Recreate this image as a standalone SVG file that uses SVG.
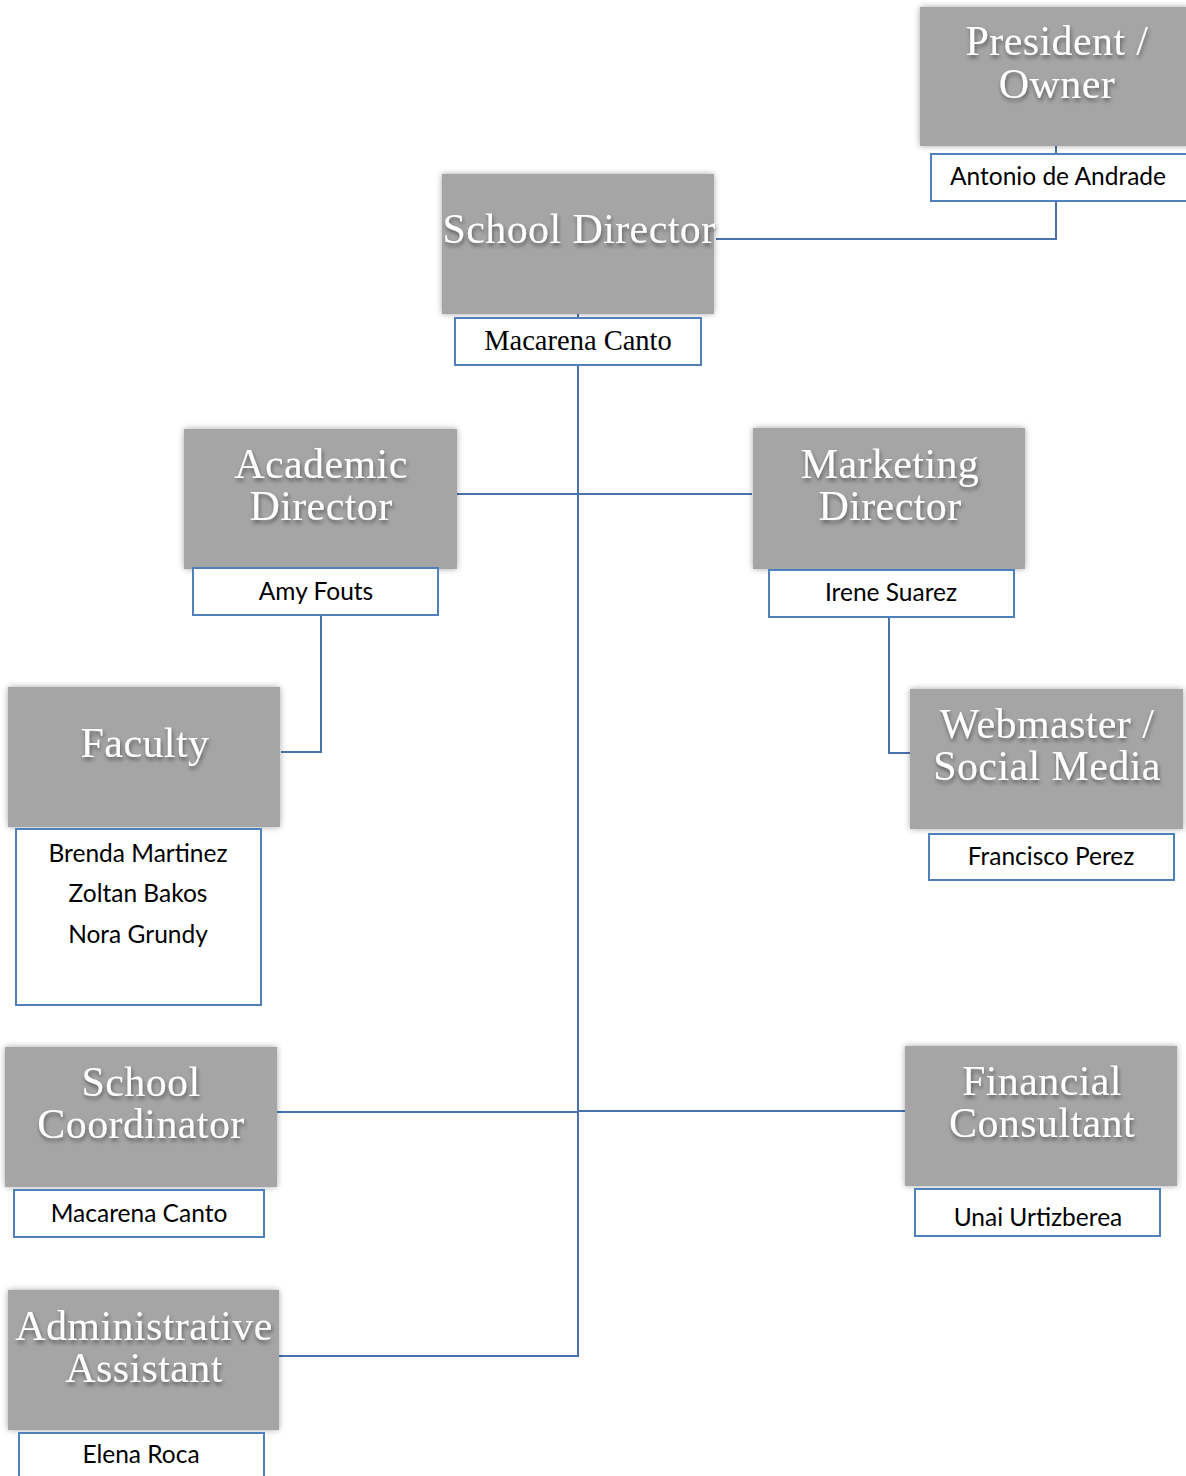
<svg xmlns="http://www.w3.org/2000/svg" width="1186" height="1476" viewBox="0 0 1186 1476">
<defs>
<filter id="boxsh" x="-10%" y="-10%" width="120%" height="120%">
<feGaussianBlur in="SourceAlpha" stdDeviation="3"/>
<feOffset dx="0" dy="0" result="b"/>
<feComponentTransfer><feFuncA type="linear" slope="0.35"/></feComponentTransfer>
<feMerge><feMergeNode/><feMergeNode in="SourceGraphic"/></feMerge>
</filter>
<filter id="txtsh" x="-10%" y="-20%" width="120%" height="150%">
<feGaussianBlur in="SourceAlpha" stdDeviation="2"/>
<feOffset dx="1" dy="3"/>
<feComponentTransfer><feFuncA type="linear" slope="0.45"/></feComponentTransfer>
<feMerge><feMergeNode/><feMergeNode in="SourceGraphic"/></feMerge>
</filter>
</defs>
<style>
.box{fill:#a5a5a5;filter:url(#boxsh)}
.title{font-family:"Liberation Serif",serif;font-size:42px;letter-spacing:0.4px;fill:#ffffff;text-anchor:middle;filter:url(#txtsh)}
.nb{fill:#ffffff;stroke:#4f81bd;stroke-width:2}
.name{font-family:Lato,"Liberation Sans",sans-serif;font-size:24.5px;fill:#000000;text-anchor:middle}
.sname{font-family:"Liberation Serif",serif;font-size:28.5px;fill:#000000;text-anchor:middle}
.conn{fill:none;stroke:#4a72ad;stroke-width:2}
</style>
<rect width="1186" height="1476" fill="#ffffff"/>
<g id="connectors">
<path class="conn" d="M1056 146V154M1056 201V239H716"/>
<path class="conn" d="M578 310V318M578 365V1356H279"/>
<path class="conn" d="M457 494H752"/>
<path class="conn" d="M321 565V568M321 615V752H281"/>
<path class="conn" d="M889 566V570M889 617V753H910"/>
<path class="conn" d="M277 1112H578M578 1111H905"/>
</g>
<g id="president">
<rect class="box" x="920" y="7" width="270" height="139"/>
<text class="title" x="1057" y="55">President /</text>
<text class="title" x="1057" y="98">Owner</text>
<rect class="nb" x="931" y="154" width="258" height="47"/>
<text class="name" x="1058" y="185">Antonio de Andrade</text>
</g>
<g id="school-director">
<rect class="box" x="442" y="174" width="272" height="140"/>
<text class="title" x="579" y="243">School Director</text>
<rect class="nb" x="455" y="318" width="246" height="47"/>
<text class="sname" x="578" y="350">Macarena Canto</text>
</g>
<g id="academic-director">
<rect class="box" x="184" y="429" width="273" height="140"/>
<text class="title" x="321" y="478">Academic</text>
<text class="title" x="321" y="520">Director</text>
<rect class="nb" x="193" y="568" width="245" height="47"/>
<text class="name" x="316" y="600">Amy Fouts</text>
</g>
<g id="marketing-director">
<rect class="box" x="753" y="428" width="272" height="141"/>
<text class="title" x="890" y="478">Marketing</text>
<text class="title" x="890" y="520">Director</text>
<rect class="nb" x="769" y="570" width="245" height="47"/>
<text class="name" x="891" y="601">Irene Suarez</text>
</g>
<g id="faculty">
<rect class="box" x="8" y="687" width="272" height="140"/>
<text class="title" x="145" y="757">Faculty</text>
<rect class="nb" x="16" y="829" width="245" height="176"/>
<text class="name" x="138" y="862">Brenda Martinez</text>
<text class="name" x="138" y="902">Zoltan Bakos</text>
<text class="name" x="138" y="943">Nora Grundy</text>
</g>
<g id="webmaster">
<rect class="box" x="910" y="689" width="273" height="140"/>
<text class="title" x="1047" y="738">Webmaster /</text>
<text class="title" x="1047" y="780">Social Media</text>
<rect class="nb" x="929" y="834" width="245" height="46"/>
<text class="name" x="1051" y="865">Francisco Perez</text>
</g>
<g id="school-coordinator">
<rect class="box" x="5" y="1047" width="272" height="140"/>
<text class="title" x="141" y="1096">School</text>
<text class="title" x="141" y="1138">Coordinator</text>
<rect class="nb" x="14" y="1190" width="250" height="47"/>
<text class="name" x="139" y="1222">Macarena Canto</text>
</g>
<g id="financial-consultant">
<rect class="box" x="905" y="1046" width="272" height="140"/>
<text class="title" x="1042" y="1095">Financial</text>
<text class="title" x="1042" y="1137">Consultant</text>
<rect class="nb" x="915" y="1189" width="245" height="47"/>
<text class="name" x="1038" y="1226">Unai Urtizberea</text>
</g>
<g id="administrative-assistant">
<rect class="box" x="8" y="1290" width="271" height="140"/>
<text class="title" x="144" y="1340">Administrative</text>
<text class="title" x="144" y="1382">Assistant</text>
<rect class="nb" x="19" y="1433" width="245" height="46"/>
<text class="name" x="141" y="1463">Elena Roca</text>
</g>
</svg>
